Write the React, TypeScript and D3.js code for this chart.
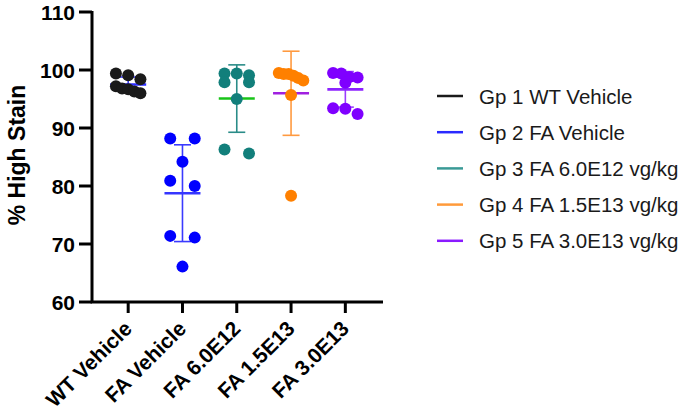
import { scaleLinear, scalePoint, mean, deviation } from 'd3';

const categories = ['WT Vehicle', 'FA Vehicle', 'FA 6.0E12', 'FA 1.5E13', 'FA 3.0E13'];
const legendLabels = [
  'Gp 1 WT Vehicle',
  'Gp 2 FA Vehicle',
  'Gp 3 FA 6.0E12 vg/kg',
  'Gp 4 FA 1.5E13 vg/kg',
  'Gp 5 FA 3.0E13 vg/kg',
];

// % high stain per animal
const gp1 = [99.4, 99.1, 98.4, 97.2, 96.8, 96.7, 96.3, 96.0];
const gp2 = [88.2, 88.2, 84.2, 80.9, 80.0, 71.4, 71.1, 66.1];
const gp3 = [99.4, 99.4, 99.1, 97.9, 97.9, 95.0, 86.3, 85.6];
const gp4 = [99.5, 99.3, 99.3, 99.0, 98.6, 98.2, 95.7, 78.3];
const gp5 = [99.5, 99.4, 98.8, 98.7, 97.8, 93.4, 93.3, 92.4];
const groups = [gp1, gp2, gp3, gp4, gp5];

const yTicks = [60, 70, 80, 90, 100, 110];

const dotColors = ['#1a1a1a', '#0000ff', '#127f7b', '#ff8000', '#7f00ff'];
const barColors = ['#3a3aff', '#3a3aff', '#2a8c88', '#ff9a40', '#9a3cff'];
const meanColors = ['#2a2aff', '#3535ff', '#18c418', '#a020e0', '#8c22ff'];
const legendColors = ['#1a1a1a', '#2a2aff', '#3a9a96', '#ff9a3a', '#8a1aff'];

const width = 685;
const height = 416;
const font = '"Liberation Sans", Arial, sans-serif';

const y = scaleLinear().domain([60, 110]).range([302, 12]);
const x = scalePoint<string>().domain(categories).range([92, 383]).padding(0.68).align(0.49);

// prism-like scatter: values close together share a row and spread sideways
function spread(vals: number[], cx: number) {
  const pts = vals.map((v) => ({ v, py: y(v), px: cx })).sort((a, b) => b.v - a.v);
  const rows: (typeof pts)[] = [];
  pts.forEach((p) => {
    const row = rows[rows.length - 1];
    if (!row || p.py - row[0].py > 8) rows.push([p]);
    else row.push(p);
  });
  const w = 24.5;
  rows.forEach((row) => {
    if (row.length === 1) return;
    row.forEach((p, i) => (p.px = cx - w / 2 + (i * w) / (row.length - 1)));
  });
  return pts;
}

export default function App() {
  const [x0, x1] = x.range();
  return (
    <svg
      width={width}
      height={height}
      style={{ position: 'absolute', left: 0, top: 0, background: '#fff' }}
      fontFamily={font}
    >
      {/* y title */}
      <text
        transform={`translate(25,155) rotate(-90)`}
        textAnchor="middle"
        fontWeight="bold"
        fontSize={23}
      >
        % High Stain
      </text>

      {/* y ticks */}
      {yTicks.map((t) => (
        <g key={t}>
          <line x1={79} x2={x0} y1={y(t)} y2={y(t)} stroke="#000" strokeWidth={3} />
          <text
            x={75}
            y={y(t)}
            textAnchor="end"
            dominantBaseline="central"
            fontWeight="bold"
            fontSize={21}
          >
            {t}
          </text>
        </g>
      ))}

      {/* x ticks and labels */}
      {categories.map((c) => (
        <g key={c}>
          <line x1={x(c)} x2={x(c)} y1={y(60)} y2={y(60) + 11} stroke="#000" strokeWidth={3} />
          <text
            transform={`translate(${(x(c) as number) + 5},330) rotate(-45)`}
            textAnchor="end"
            fontWeight="bold"
            fontSize={21}
          >
            {c}
          </text>
        </g>
      ))}

      <path
        d={`M${x0},${y(110) - 1}V${y(60)}H${x1}`}
        fill="none"
        stroke="#000"
        strokeWidth={3}
      />

      {/* mean +/- SD */}
      {groups.map((g, i) => {
        const cx = x(categories[i]) as number;
        const m = mean(g) as number;
        const sd = deviation(g) as number;
        return (
          <g key={i}>
            <line x1={cx} x2={cx} y1={y(m + sd)} y2={y(m - sd)} stroke={barColors[i]} strokeWidth={1.6} />
            <line x1={cx - 8.5} x2={cx + 8.5} y1={y(m + sd)} y2={y(m + sd)} stroke={barColors[i]} strokeWidth={1.6} />
            <line x1={cx - 8.5} x2={cx + 8.5} y1={y(m - sd)} y2={y(m - sd)} stroke={barColors[i]} strokeWidth={1.6} />
            <line x1={cx - 18} x2={cx + 18} y1={y(m)} y2={y(m)} stroke={meanColors[i]} strokeWidth={2.6} />
          </g>
        );
      })}

      {/* dots */}
      {groups.map((g, i) =>
        spread(g, x(categories[i]) as number).map((p, j) => (
          <circle key={`${i}-${j}`} cx={p.px} cy={p.py} r={6} fill={dotColors[i]} />
        ))
      )}

      {/* legend */}
      {legendLabels.map((l, i) => (
        <g key={l} transform={`translate(437,${96 + i * 36.2})`}>
          <line x1={0} x2={26} y1={0} y2={0} stroke={legendColors[i]} strokeWidth={2.5} />
          <text x={42} y={0} dominantBaseline="central" fontSize={20.5} fill="#1a1a1a">
            {l}
          </text>
        </g>
      ))}
    </svg>
  );
}
